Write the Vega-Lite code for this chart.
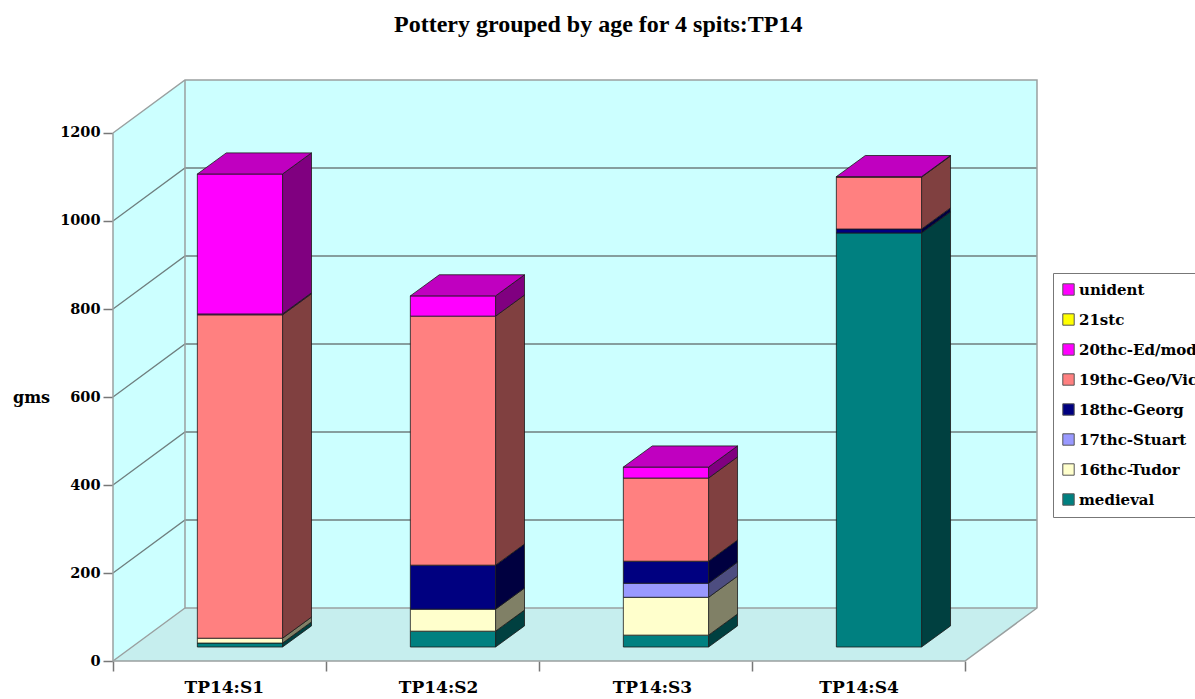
{
"$schema":"https://vega.github.io/schema/vega-lite/v6.json",
"width":1195,"height":699,"padding":0,"autosize":{"type":"none"},"background":"white",
"title":{"text":"Pottery grouped by age for 4 spits:TP14","orient":"top","anchor":"start","frame":"group","offset":-56,"dx":394,"baseline":"alphabetic","font":"Liberation Serif","fontSize":24,"fontWeight":"bold","color":"#000"},
"datasets":{
"sherds":[
{"spit":"TP14:S1","slot":0,"order":1,"age":"medieval","grams":9},
{"spit":"TP14:S1","slot":0,"order":2,"age":"16thc-Tudor","grams":11},
{"spit":"TP14:S1","slot":0,"order":5,"age":"19thc-Geo/Vic","grams":735},
{"spit":"TP14:S1","slot":0,"order":6,"age":"20thc-Ed/mod","grams":2},
{"spit":"TP14:S1","slot":0,"order":8,"age":"unident","grams":318},
{"spit":"TP14:S2","slot":1,"order":1,"age":"medieval","grams":36},
{"spit":"TP14:S2","slot":1,"order":2,"age":"16thc-Tudor","grams":50},
{"spit":"TP14:S2","slot":1,"order":4,"age":"18thc-Georg","grams":100},
{"spit":"TP14:S2","slot":1,"order":5,"age":"19thc-Geo/Vic","grams":566},
{"spit":"TP14:S2","slot":1,"order":8,"age":"unident","grams":46},
{"spit":"TP14:S3","slot":2,"order":1,"age":"medieval","grams":27},
{"spit":"TP14:S3","slot":2,"order":2,"age":"16thc-Tudor","grams":86},
{"spit":"TP14:S3","slot":2,"order":3,"age":"17thc-Stuart","grams":32},
{"spit":"TP14:S3","slot":2,"order":4,"age":"18thc-Georg","grams":50},
{"spit":"TP14:S3","slot":2,"order":5,"age":"19thc-Geo/Vic","grams":189},
{"spit":"TP14:S3","slot":2,"order":8,"age":"unident","grams":25},
{"spit":"TP14:S4","slot":3,"order":1,"age":"medieval","grams":941},
{"spit":"TP14:S4","slot":3,"order":4,"age":"18thc-Georg","grams":9},
{"spit":"TP14:S4","slot":3,"order":5,"age":"19thc-Geo/Vic","grams":118},
{"spit":"TP14:S4","slot":3,"order":8,"age":"unident","grams":1}
],
"walls":[
{"wall":"left","x":0,"y":0,"y2":1200},
{"wall":"left","x":0.338,"y":120.5,"y2":1320.5},
{"wall":"back","x":0.338,"y":120.5,"y2":1320.5},
{"wall":"back","x":4.338,"y":120.5,"y2":1320.5}
],
"floor":[
{"x":0,"x2":4,"y":0},
{"x":0.338,"x2":4.338,"y":120.5}
],
"grid":[
{"g":"200","x":0,"y":200},{"g":"200","x":0.338,"y":320.5},{"g":"200","x":4.338,"y":320.5},
{"g":"400","x":0,"y":400},{"g":"400","x":0.338,"y":520.5},{"g":"400","x":4.338,"y":520.5},
{"g":"600","x":0,"y":600},{"g":"600","x":0.338,"y":720.5},{"g":"600","x":4.338,"y":720.5},
{"g":"800","x":0,"y":800},{"g":"800","x":0.338,"y":920.5},{"g":"800","x":4.338,"y":920.5},
{"g":"1000","x":0,"y":1000},{"g":"1000","x":0.338,"y":1120.5},{"g":"1000","x":4.338,"y":1120.5}
],
"edges":[
{"g":"a","n":1,"x":0,"y":1200},{"g":"a","n":2,"x":0,"y":0},{"g":"a","n":3,"x":4,"y":0},{"g":"a","n":4,"x":4.338,"y":120.5},{"g":"a","n":5,"x":4.338,"y":1320.5},{"g":"a","n":6,"x":0.338,"y":1320.5},{"g":"a","n":7,"x":0,"y":1200},
{"g":"b","n":1,"x":0,"y":0},{"g":"b","n":2,"x":0.338,"y":120.5},{"g":"b","n":3,"x":0.338,"y":1320.5},
{"g":"c","n":1,"x":0.338,"y":120.5},{"g":"c","n":2,"x":4.338,"y":120.5}
]
},
"encoding":{
"x":{"field":"x","type":"quantitative","title":null,"scale":{"domain":[-0.5305,5.0798],"nice":false,"zero":false},
"axis":{"orient":"bottom","offset":-38,"values":[0,0.52,1,1.526,2,2.53,3,3.5,4],"domain":false,"grid":false,"tickSize":10,"tickColor":"#777","tickWidth":1.5,
"tickOpacity":{"expr":"datum.value % 1 == 0 ? 1 : 0"},
"labelExpr":"datum.value==0.52?'TP14:S1':datum.value==1.526?'TP14:S2':datum.value==2.53?'TP14:S3':datum.value==3.5?'TP14:S4':''",
"labelFont":"DejaVu Serif","labelFontSize":17,"labelFontWeight":"bold","labelColor":"#000","labelPadding":8,"labelOverlap":false,"labelFlush":false,"labelBound":false}},
"y":{"field":"y","type":"quantitative","title":"gms","stack":null,"scale":{"domain":[-86.36,1502.27],"nice":false,"zero":false},
"axis":{"orient":"left","offset":-113,"values":[0,200,400,600,800,1000,1200],"format":"d","domain":false,"grid":false,"tickSize":10,"tickColor":"#777","tickWidth":1.5,
"labelFont":"DejaVu Serif","labelFontSize":14.5,"labelFontWeight":"bold","labelColor":"#000","labelPadding":3,"labelOverlap":false,"labelBound":false,
"titleFont":"DejaVu Serif","titleFontSize":16,"titleFontWeight":"bold","titleColor":"#000","titleAngle":0,"titleX":-82,"titleY":397,"titleAlign":"center","titleBaseline":"middle"}}
},
"layer":[
{"data":{"name":"walls"},"mark":{"type":"area","fill":"#CCFFFF"},"encoding":{"y2":{"field":"y2"},"detail":{"field":"wall"}}},
{"data":{"name":"floor"},"mark":{"type":"area","orient":"horizontal","fill":"#C6EEEE"},"encoding":{"x2":{"field":"x2"}}},
{"data":{"name":"grid"},"mark":{"type":"line","stroke":"#6F7F7F","strokeWidth":1.3},"encoding":{"detail":{"field":"g"}}},
{"data":{"name":"edges"},"mark":{"type":"line","stroke":"#9AA0A0","strokeWidth":1.5},"encoding":{"detail":{"field":"g"},"order":{"field":"n"}}},
{"data":{"name":"sherds"},
"transform":[
{"stack":"grams","groupby":["spit"],"sort":[{"field":"order","order":"ascending"}],"as":["lo","hi"]},
{"calculate":"[0,1]","as":"d"},{"flatten":["d"]},
{"calculate":"datum.slot+0.796+datum.d*0.136","as":"x"},
{"calculate":"datum.lo+31.8+datum.d*48","as":"y"},
{"calculate":"datum.hi+31.8+datum.d*48","as":"y2"}
],
"mark":{"type":"area","stroke":"#1a1a1a","strokeWidth":0.8},
"encoding":{"y2":{"field":"y2"},"detail":{"field":"spit"},
"color":{"field":"age","type":"nominal","legend":null,"scale":{"domain":["unident","21stc","20thc-Ed/mod","19thc-Geo/Vic","18thc-Georg","17thc-Stuart","16thc-Tudor","medieval"],"range":["#800080","#808000","#800080","#804040","#000040","#4D4D80","#808066","#004040"]}}}},
{"data":{"name":"sherds"},
"transform":[
{"stack":"grams","groupby":["spit"],"sort":[{"field":"order","order":"ascending"}],"as":["lo","hi"]},
{"calculate":"datum.slot+0.396","as":"x"},
{"calculate":"datum.slot+0.796","as":"x2"},
{"calculate":"datum.lo+31.8","as":"y"},
{"calculate":"datum.hi+31.8","as":"y2"}
],
"mark":{"type":"rect","stroke":"#1a1a1a","strokeWidth":0.8},
"encoding":{"x2":{"field":"x2"},"y2":{"field":"y2"},
"color":{"field":"age","type":"nominal","scale":{"domain":["unident","21stc","20thc-Ed/mod","19thc-Geo/Vic","18thc-Georg","17thc-Stuart","16thc-Tudor","medieval"],"range":["#FF00FF","#FFFF00","#FF00FF","#FF8080","#000080","#9999FF","#FFFFCC","#008080"]},
"legend":{"title":null,"orient":"none","legendX":1053,"legendY":273,"strokeColor":"#777","fillColor":"#fff","padding":9,"symbolType":"square","symbolSize":130,"symbolOffset":-1,"symbolStrokeColor":"#555","symbolStrokeWidth":1,"symbolOpacity":1,"labelFont":"DejaVu Serif","labelFontSize":15,"labelFontWeight":"bold","labelColor":"#000","labelLimit":300,"rowPadding":13,"labelOffset":3}}}},
{"data":{"name":"sherds"},
"transform":[
{"stack":"grams","groupby":["spit"],"sort":[{"field":"order","order":"ascending"}],"as":["lo","hi"]},
{"joinaggregate":[{"op":"max","field":"hi","as":"top"}],"groupby":["spit"]},
{"filter":"datum.hi==datum.top"},
{"calculate":"[0,1]","as":"d"},{"flatten":["d"]},
{"calculate":"datum.slot+0.396+datum.d*0.136","as":"x"},
{"calculate":"datum.slot+0.796+datum.d*0.136","as":"x2"},
{"calculate":"datum.hi+31.8+datum.d*48","as":"y"}
],
"mark":{"type":"area","orient":"horizontal","fill":"#C000C0","stroke":"#1a1a1a","strokeWidth":0.8},
"encoding":{"x2":{"field":"x2"},"detail":{"field":"spit"}}}
],
"resolve":{"scale":{"color":"independent"}},
"config":{"view":{"stroke":null}}
}
